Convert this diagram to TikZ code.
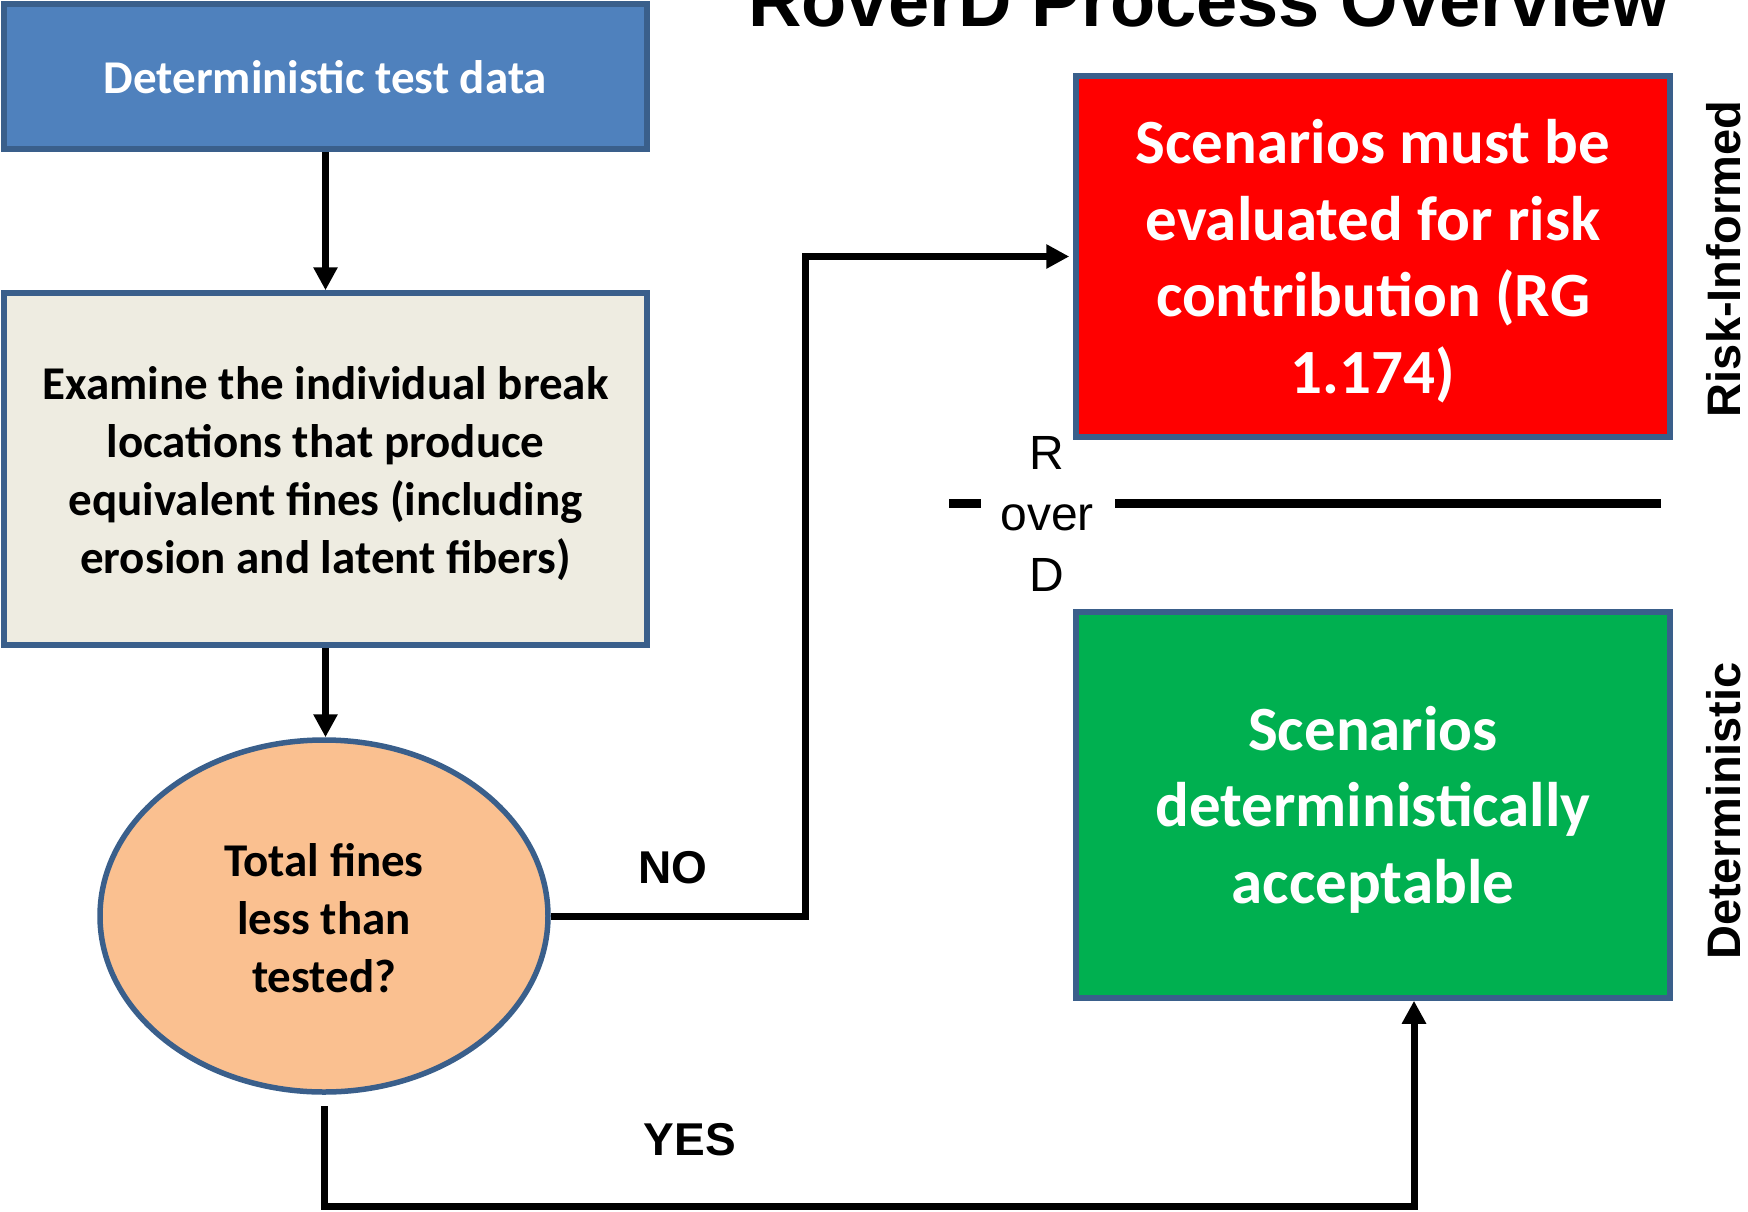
\documentclass[tikz,border=0pt]{standalone}
\usepackage{fontspec}
\setmainfont{Liberation Sans}
\newfontfamily\calibri{Carlito}
\usetikzlibrary{arrows.meta,shapes.geometric}
\definecolor{bordc}{HTML}{3A5F8B}
\definecolor{bluefill}{HTML}{4F81BD}
\definecolor{beigefill}{HTML}{EEECE1}
\definecolor{peach}{HTML}{FAC090}
\definecolor{redfill}{HTML}{FF0000}
\definecolor{greenfill}{HTML}{00B050}
\begin{document}
\begin{tikzpicture}[x=1pt,y=-1pt,
  shapebox/.style={draw=bordc,line width=5.5pt,inner sep=0pt},
  conn/.style={line width=7pt,-{Triangle[length=23pt,width=23pt]}},
  sepline/.style={line width=9pt},
  boxtext/.style={font=\calibri\bfseries\fontsize{47}{58}\selectfont,align=center},
  bigtext/.style={font=\calibri\bfseries\fontsize{63}{76.5}\selectfont,align=center,text=white},
  lbl/.style={font=\bfseries\fontsize{46}{56}\selectfont,anchor=base},
  sidelbl/.style={font=\bfseries\fontsize{47}{56}\selectfont,anchor=base,rotate=90}]
\useasboundingbox (0,0) rectangle (1748,1211);

\node[font=\bfseries\fontsize{74}{88}\selectfont,anchor=base] (title) at (1209,26) {RoverD Process Overview};

% shapes
\node[shapebox,fill=bluefill,minimum width=643pt,minimum height=145pt] (data) at (325.5,76.5) {};
\node[shapebox,fill=beigefill,minimum width=643pt,minimum height=352pt] (examine) at (325.5,469) {};
\node[shapebox,ellipse,fill=peach,minimum width=448pt,minimum height=352pt] (decide) at (324,916) {};
\node[shapebox,fill=redfill,minimum width=594pt,minimum height=361pt] (risk) at (1373,256.5) {};
\node[shapebox,fill=greenfill,minimum width=594pt,minimum height=386pt] (accept) at (1373,805) {};

% texts inside shapes
\node[boxtext,text=white] (datatext) at ([yshift=-1pt]data.center) {Deterministic test data};
\node[boxtext] (examinetext) at ([yshift=-4.5pt]examine.center) {Examine the individual break\\locations that produce\\equivalent fines (including\\erosion and latent fibers)};
\node[boxtext] (decidetext) at ([yshift=-2.5pt]decide.center) {Total fines\\less than\\tested?};
\node[bigtext] (risktext) at ([yshift=-4.5pt]risk.center) {Scenarios must be\\evaluated for risk\\contribution (RG\\1.174)};
\node[bigtext] (accepttext) at ([yshift=-4.5pt]accept.center) {Scenarios\\deterministically\\acceptable};

\node[font=\fontsize{48}{61}\selectfont,align=center] (rod) at (1047,514) {R\\over\\D};

\node[sidelbl] (ri) at (1740,259) {Risk-Informed};
\node[sidelbl] (det) at (1740,811) {Deterministic};

\node[lbl] (no) at (673,883) {NO};
\node[lbl] (yes) at (690,1155) {YES};

% connectors
\draw[conn] (data.south) -- (data.south |- examine.north);
\draw[conn] (examine.south) -- (examine.south |- decide.north);

\coordinate (nobend) at (805,916);
\draw[conn,shorten >=4pt] (decide.east) -- (nobend) |- (risk.west);

\coordinate (yesstart) at (324,1106);
\coordinate (yesend) at (1414,1206);
\draw[conn] (yesstart) |- (yesend) -- (yesend |- accept.south);

% separator
\coordinate (sepa) at (949,503);
\coordinate (sepb) at (981,503);
\coordinate (sepc) at (1115,503);
\coordinate (sepd) at (1661,503);
\draw[sepline] (sepa) -- (sepb);
\draw[sepline] (sepc) -- (sepd);
\end{tikzpicture}
\end{document}
